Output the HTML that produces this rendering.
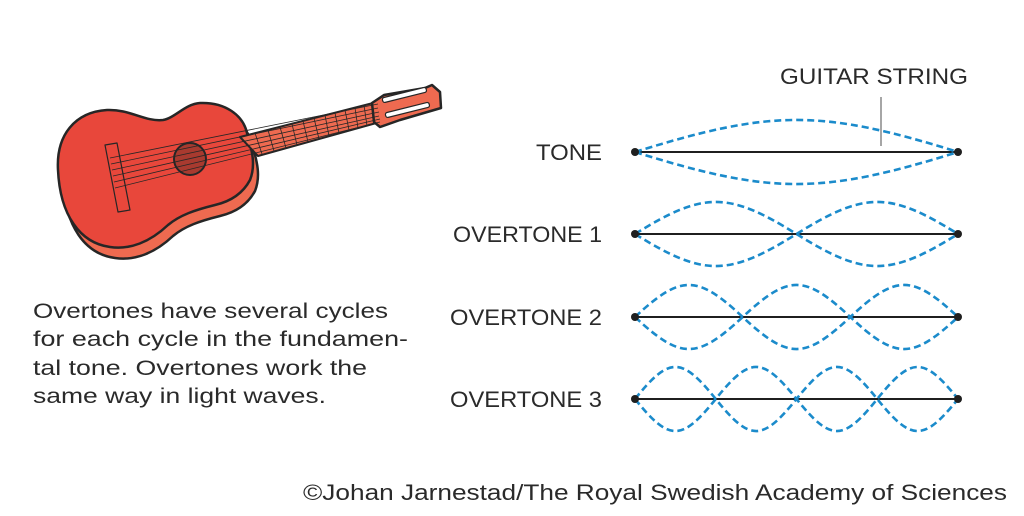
<!DOCTYPE html>
<html><head><meta charset="utf-8"><style>
html,body{margin:0;padding:0;background:#fff;}
svg{display:block;}
text{font-family:"Liberation Sans",sans-serif;fill:#2a2a2a;}
</style></head><body>
<svg width="1024" height="516" viewBox="0 0 1024 516" xmlns="http://www.w3.org/2000/svg">
<g stroke="#262626" stroke-linejoin="round">
  <path transform="translate(5,11)" d="M58 170 C56 135 75 112 107 110 C130 109 145 122 163 120 C175 118 185 104 200 103 C225 102 243 115 247 133 C252 150 256 165 250 180 C242 195 228 202 215 205 C195 210 180 215 168 225 C150 242 130 250 110 247 C80 243 60 215 58 170 Z" fill="#ee6a50" stroke-width="2.5"/>
  <path d="M58 170 C56 135 75 112 107 110 C130 109 145 122 163 120 C175 118 185 104 200 103 C225 102 243 115 247 133 C252 150 256 165 250 180 C242 195 228 202 215 205 C195 210 180 215 168 225 C150 242 130 250 110 247 C80 243 60 215 58 170 Z" fill="#e8473b" stroke-width="2.5"/>
  <path d="M240 137 L377 102 L380 122 L258 156 Z" fill="#ee6a50" stroke-width="2"/>
  <path d="M372 103 L384 95 L425 88 L432 85 L440 92 L441 108 L400 120 L380 127 L374 122 Z" fill="#ee6a50" stroke-width="2.5"/>
  <rect x="382" y="98" width="45" height="5" rx="2" transform="rotate(-14 382 98)" fill="#fff" stroke-width="1.2"/>
  <rect x="385" y="113" width="45" height="5" rx="2" transform="rotate(-14 385 113)" fill="#fff" stroke-width="1.2"/>
  <circle cx="190" cy="159" r="16" fill="#a83a2f" stroke-width="2"/>
  <path d="M105 145 L117 143 L130 210 L118 212 Z" fill="none" stroke-width="1.2"/>
  <g stroke-width="0.8">
    <path d="M255 133 L262 154 M268 130 L274 151 M280 127 L286 148 M292 124 L297 145 M303 121 L308 142 M314 118 L319 139 M325 115 L329 136 M335 113 L339 133 M345 110 L349 130 M355 108 L358 128 M364 105 L367 126"/>
    <path d="M110 158 L378 104 M111 164 L378 108 M112 170 L379 112 M113 176 L379 116 M114 182 L380 119 M115 188 L380 122"/>
  </g>
</g>

<g font-size="21">
<text x="33" y="318" textLength="355" lengthAdjust="spacingAndGlyphs">Overtones have several cycles</text>
<text x="33" y="346" textLength="375" lengthAdjust="spacingAndGlyphs">for each cycle in the fundamen-</text>
<text x="33" y="375" textLength="334" lengthAdjust="spacingAndGlyphs">tal tone. Overtones work the</text>
<text x="33" y="403" textLength="293" lengthAdjust="spacingAndGlyphs">same way in light waves.</text>
</g>

<g font-size="22">
<text x="536" y="160" textLength="66" lengthAdjust="spacingAndGlyphs">TONE</text>
<text x="453" y="242" textLength="149" lengthAdjust="spacingAndGlyphs">OVERTONE 1</text>
<text x="450" y="325" textLength="152" lengthAdjust="spacingAndGlyphs">OVERTONE 2</text>
<text x="450" y="407" textLength="152" lengthAdjust="spacingAndGlyphs">OVERTONE 3</text>
<text x="780" y="84" textLength="188" lengthAdjust="spacingAndGlyphs">GUITAR STRING</text>
<text x="303" y="500" textLength="704" lengthAdjust="spacingAndGlyphs">©Johan Jarnestad/The Royal Swedish Academy of Sciences</text>
</g>

<line x1="881" y1="97" x2="881" y2="146" stroke="#777" stroke-width="1.3"/>

<g stroke="#1f1f1f" stroke-width="2">
<line x1="635" y1="152" x2="958" y2="152"/>
<line x1="635" y1="234" x2="958" y2="234"/>
<line x1="635" y1="317" x2="958" y2="317"/>
<line x1="635" y1="399" x2="958" y2="399"/>
</g>

<g fill="none" stroke="#1b8bcb" stroke-width="2.6" stroke-dasharray="7 4">
<path d="M635 152 C772 109.3 821 109.3 958 152"/>
<path d="M635 152 C772 194.7 821 194.7 958 152"/>
<path d="M635 234 C703.5 191.3 728 191.3 796.5 234 C865 276.7 889.5 276.7 958 234"/>
<path d="M635 234 C703.5 276.7 728 276.7 796.5 234 C865 191.3 889.5 191.3 958 234"/>
<path d="M635 317 C680.7 274.3 697 274.3 742.7 317 C788.4 359.7 804.6 359.7 850.3 317 C896 274.3 912.3 274.3 958 317"/>
<path d="M635 317 C680.7 359.7 697 359.7 742.7 317 C788.4 274.3 804.6 274.3 850.3 317 C896 359.7 912.3 359.7 958 317"/>
<path d="M635 399 C669.3 356.3 681.5 356.3 715.75 399 C750 441.7 762.2 441.7 796.5 399 C830.8 356.3 843 356.3 877.25 399 C911.5 441.7 923.7 441.7 958 399"/>
<path d="M635 399 C669.3 441.7 681.5 441.7 715.75 399 C750 356.3 762.2 356.3 796.5 399 C830.8 441.7 843 441.7 877.25 399 C911.5 356.3 923.7 356.3 958 399"/>
</g>

<g fill="#1f1f1f">
<circle cx="635" cy="152" r="4"/><circle cx="958" cy="152" r="4"/>
<circle cx="635" cy="234" r="4"/><circle cx="958" cy="234" r="4"/>
<circle cx="635" cy="317" r="4"/><circle cx="958" cy="317" r="4"/>
<circle cx="635" cy="399" r="4"/><circle cx="958" cy="399" r="4"/>
</g>
</svg>
</body></html>
